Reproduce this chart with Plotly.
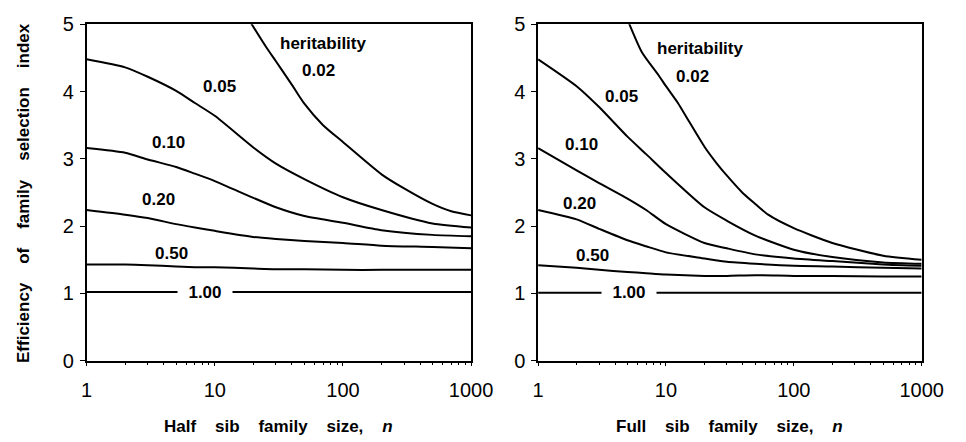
import math
import plotly.graph_objects as go

# ---------------- data ----------------
heritability = ["0.02", "0.05", "0.10", "0.20", "0.50", "1.00"]

n_common = [1, 2, 3, 5, 7, 10, 20, 30, 50, 100, 200, 500, 1000]

# Half sib family selection index efficiency
hs_n_002 = [19, 25, 30, 40, 50, 70, 100, 200, 300, 500, 700, 1000]
hs_002 = [5.03, 4.67, 4.45, 4.10, 3.82, 3.50, 3.25, 2.77, 2.56, 2.33, 2.22, 2.16]
hs_005 = [4.48, 4.36, 4.22, 4.01, 3.83, 3.64, 3.17, 2.93, 2.70, 2.43, 2.24, 2.04, 1.98]
hs_010 = [3.16, 3.09, 2.99, 2.88, 2.78, 2.67, 2.42, 2.28, 2.15, 2.05, 1.94, 1.87, 1.85]
hs_020 = [2.24, 2.17, 2.12, 2.03, 1.98, 1.93, 1.84, 1.81, 1.78, 1.75, 1.71, 1.69, 1.67]
hs_050 = [1.43, 1.43, 1.42, 1.40, 1.39, 1.39, 1.37, 1.36, 1.36, 1.35, 1.35, 1.35, 1.35]
hs_100 = [1.02, 1.02, 1.02, 1.02, 1.02, 1.02, 1.02, 1.02, 1.02, 1.02, 1.02, 1.02, 1.02]

# Full sib family selection index efficiency
fs_n_002 = [5, 6.5, 8.7, 10, 12.4, 15, 20, 25, 30, 40, 50, 63, 100, 200, 500, 1000]
fs_002 = [5.07, 4.58, 4.25, 4.08, 3.83, 3.57, 3.18, 2.93, 2.75, 2.49, 2.33, 2.17, 1.97, 1.75, 1.56, 1.50]
fs_005 = [4.48, 4.08, 3.77, 3.33, 3.07, 2.79, 2.28, 2.08, 1.86, 1.65, 1.54, 1.46, 1.44]
fs_010 = [3.16, 2.83, 2.64, 2.41, 2.24, 2.03, 1.75, 1.67, 1.58, 1.52, 1.48, 1.43, 1.41]
fs_020 = [2.24, 2.10, 1.96, 1.79, 1.70, 1.61, 1.52, 1.47, 1.44, 1.41, 1.40, 1.38, 1.37]
fs_050 = [1.42, 1.38, 1.35, 1.32, 1.30, 1.28, 1.26, 1.26, 1.27, 1.26, 1.26, 1.25, 1.25]
fs_100 = [1.01, 1.01, 1.01, 1.01, 1.01, 1.01, 1.01, 1.01, 1.01, 1.01, 1.01, 1.01, 1.01]

x_tick_vals = [1, 10, 100, 1000]
x_tick_text = ["1", "10", "100", "1000"]
y_tick_vals = [0, 1, 2, 3, 4, 5]

x_titles = ["Half sib family size, ", "Full sib family size, "]
y_title = "Efficiency of family selection index"

# label placement (n, value) for each panel: heritability, 0.02 ... 1.00
label_pos_half = [(71, 4.72), (64.5, 4.32), (10.8, 4.07), (4.35, 3.24), (3.61, 2.39), (4.56, 1.60), (8.4, 1.02)]
label_pos_full = [(18.6, 4.64), (16.1, 4.22), (4.52, 3.92), (2.2, 3.21), (2.12, 2.34), (2.68, 1.57), (5.17, 1.01)]

# ---------------- figure ----------------
FONT = "Liberation Sans, Arial, Helvetica, sans-serif"
fig = go.Figure()

line_style = dict(color="black", width=2, shape="spline", smoothing=0.6)

half_series = [(hs_n_002, hs_002), (n_common, hs_005), (n_common, hs_010),
               (n_common, hs_020), (n_common, hs_050), (n_common, hs_100)]
full_series = [(fs_n_002, fs_002), (n_common, fs_005), (n_common, fs_010),
               (n_common, fs_020), (n_common, fs_050), (n_common, fs_100)]

for (xs, ys), h in zip(half_series, heritability):
    fig.add_trace(go.Scatter(x=xs, y=ys, mode="lines", line=line_style,
                             name=h, showlegend=False, xaxis="x", yaxis="y"))
for (xs, ys), h in zip(full_series, heritability):
    fig.add_trace(go.Scatter(x=xs, y=ys, mode="lines", line=line_style,
                             name=h, showlegend=False, xaxis="x2", yaxis="y2"))

W, H = 966, 442
dom_left = [83 / W, 479 / W]
dom_right = [548 / W, 943 / W]
dom_y = [1 - 368 / H, 1 - 14 / H]

def xaxis_cfg(domain, anchor):
    return dict(
        type="log", domain=domain, anchor=anchor, range=[0, 3],
        tickvals=x_tick_vals, ticktext=x_tick_text,
        ticks="outside", ticklen=4, tickwidth=1.2, tickcolor="black",
        minor=dict(tickvals=[m * d for d in (1, 10, 100) for m in range(2, 10)],
                   ticks="outside", ticklen=3, tickwidth=1, tickcolor="black"),
        showline=True, linecolor="black", linewidth=1.6, mirror=True,
        showgrid=False, zeroline=False, ticklabelstandoff=7,
        tickfont=dict(family=FONT, size=20, color="black"),
    )

def yaxis_cfg(anchor):
    return dict(
        domain=dom_y, anchor=anchor, range=[0, 5], tickvals=y_tick_vals,
        ticks="outside", ticklen=5, tickwidth=1.2, tickcolor="black",
        showline=True, linecolor="black", linewidth=1.6, mirror=True,
        showgrid=False, zeroline=False, ticklabelstandoff=2,
        tickfont=dict(family=FONT, size=20, color="black"),
    )

fig.update_layout(
    width=W, height=H, margin=dict(l=0, r=0, t=0, b=0),
    paper_bgcolor="white", plot_bgcolor="white",
    xaxis=xaxis_cfg(dom_left, "y"), yaxis=yaxis_cfg("x"),
    xaxis2=xaxis_cfg(dom_right, "y2"), yaxis2=yaxis_cfg("x2"),
)

label_texts = ["heritability"] + heritability
lab_font = dict(family=FONT, size=17, color="black", weight="bold")
for positions, xr, yr in ((label_pos_half, "x", "y"), (label_pos_full, "x2", "y2")):
    for txt, (nx, vy) in zip(label_texts, positions):
        ann = dict(x=math.log10(nx), y=vy, xref=xr, yref=yr, text=txt,
                   showarrow=False, font=lab_font, xanchor="center", yanchor="middle")
        if txt == "1.00":
            ann["text"] = "\u00a0\u00a0" + txt + "\u00a0\u00a0"
            ann["bgcolor"] = "white"
            ann["borderpad"] = 1
        fig.add_annotation(**ann)

sp = "\u00a0\u00a0\u00a0\u00a0"
title_font = dict(family=FONT, size=17, color="black", weight="bold")
for title, dom in zip(x_titles, (dom_left, dom_right)):
    words = title.strip().split(" ")
    fig.add_annotation(
        x=(dom[0] + dom[1]) / 2, y=1 - 437 / H, xref="paper", yref="paper",
        text=sp.join(words) + sp + "<i>n</i>", showarrow=False,
        font=title_font, xanchor="center", yanchor="middle")

fig.add_annotation(
    x=18 / W, y=(dom_y[0] + dom_y[1]) / 2, xref="paper", yref="paper",
    text=sp.join(y_title.split(" ")), textangle=-90, showarrow=False,
    font=title_font, xanchor="center", yanchor="middle")

fig.write_html("out.html")
